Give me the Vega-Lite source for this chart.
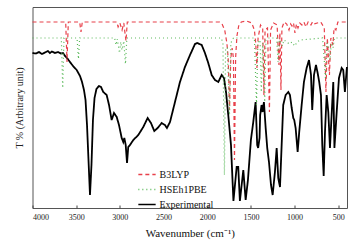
{
 "$schema": "https://vega.github.io/schema/vega-lite/v6.json",
 "width": 314.5,
 "height": 201,
 "autosize": "none",
 "padding": {"left": 32.5, "top": 7, "right": 8, "bottom": 37},
 "background": "white",
 "config": {"view": {"stroke": "#555", "strokeWidth": 1}, "font": "Liberation Serif"},
 "datasets": {
  "exp": [
   {"wn":4000,"T":155},{"wn":3960,"T":154.5},{"wn":3926,"T":156},{"wn":3891,"T":154},{"wn":3857,"T":155.5},{"wn":3823,"T":157},{"wn":3800,"T":155},{"wn":3777,"T":156.5},{"wn":3742,"T":155},{"wn":3708,"T":156},{"wn":3674,"T":154.5},{"wn":3651,"T":155},{"wn":3628,"T":152},{"wn":3605,"T":150},{"wn":3571,"T":146},{"wn":3536,"T":142},{"wn":3494,"T":138},{"wn":3456,"T":132},{"wn":3433,"T":126},{"wn":3411,"T":118},{"wn":3393,"T":108},{"wn":3376,"T":83},{"wn":3359,"T":48},{"wn":3342,"T":13},{"wn":3325,"T":43},{"wn":3308,"T":88},{"wn":3290,"T":110},{"wn":3268,"T":119},{"wn":3239,"T":122},{"wn":3216,"T":121},{"wn":3190,"T":116},{"wn":3151,"T":113},{"wn":3124,"T":103},{"wn":3094,"T":88},{"wn":3067,"T":95},{"wn":3036,"T":91},{"wn":3010,"T":83},{"wn":2979,"T":70},{"wn":2961,"T":66},{"wn":2949,"T":70},{"wn":2933,"T":63},{"wn":2918,"T":45},{"wn":2904,"T":61},{"wn":2884,"T":63},{"wn":2846,"T":68},{"wn":2789,"T":73},{"wn":2732,"T":81},{"wn":2682,"T":90},{"wn":2644,"T":85},{"wn":2606,"T":77},{"wn":2567,"T":80},{"wn":2521,"T":85},{"wn":2484,"T":83},{"wn":2461,"T":80},{"wn":2426,"T":86},{"wn":2369,"T":106},{"wn":2312,"T":126},{"wn":2255,"T":141},{"wn":2197,"T":153},{"wn":2140,"T":164},{"wn":2114,"T":165},{"wn":2063,"T":163},{"wn":2026,"T":155},{"wn":1988,"T":145},{"wn":1949,"T":133},{"wn":1911,"T":128},{"wn":1873,"T":126},{"wn":1835,"T":133},{"wn":1808,"T":130},{"wn":1785,"T":116},{"wn":1759,"T":93},{"wn":1728,"T":63},{"wn":1700,"T":7},{"wn":1663,"T":41},{"wn":1645,"T":41},{"wn":1626,"T":7},{"wn":1587,"T":38},{"wn":1560,"T":8},{"wn":1534,"T":28},{"wn":1500,"T":68},{"wn":1473,"T":86},{"wn":1446,"T":106},{"wn":1428,"T":63},{"wn":1417,"T":60},{"wn":1401,"T":70},{"wn":1394,"T":93},{"wn":1378,"T":103},{"wn":1366,"T":96},{"wn":1351,"T":106},{"wn":1331,"T":80},{"wn":1313,"T":60},{"wn":1293,"T":46},{"wn":1270,"T":23},{"wn":1251,"T":13},{"wn":1225,"T":36},{"wn":1205,"T":60},{"wn":1187,"T":30},{"wn":1167,"T":21},{"wn":1148,"T":63},{"wn":1130,"T":103},{"wn":1102,"T":113},{"wn":1072,"T":116},{"wn":1053,"T":113},{"wn":1033,"T":100},{"wn":1015,"T":90},{"wn":1004,"T":88},{"wn":988,"T":80},{"wn":965,"T":56},{"wn":947,"T":76},{"wn":919,"T":103},{"wn":893,"T":126},{"wn":862,"T":140},{"wn":835,"T":148},{"wn":812,"T":133},{"wn":798,"T":98},{"wn":778,"T":133},{"wn":755,"T":143},{"wn":736,"T":135},{"wn":718,"T":126},{"wn":698,"T":113},{"wn":683,"T":63},{"wn":667,"T":32},{"wn":652,"T":76},{"wn":633,"T":113},{"wn":614,"T":96},{"wn":595,"T":60},{"wn":576,"T":93},{"wn":557,"T":126},{"wn":544,"T":60},{"wn":518,"T":96},{"wn":492,"T":130},{"wn":461,"T":140},{"wn":443,"T":138},{"wn":424,"T":116},{"wn":401,"T":141}
  ],
  "b3": [
   {"wn":4000,"T":186},{"wn":3620,"T":186},{"wn":3605,"T":146},{"wn":3590,"T":186},{"wn":3460,"T":186},{"wn":3445,"T":176},{"wn":3430,"T":186},{"wn":3035,"T":186},{"wn":3020,"T":181},{"wn":3000,"T":185},{"wn":2975,"T":178},{"wn":2955,"T":185},{"wn":2930,"T":167},{"wn":2915,"T":186},{"wn":1860,"T":186},{"wn":1830,"T":184},{"wn":1800,"T":178},{"wn":1775,"T":165},{"wn":1760,"T":150},{"wn":1745,"T":98},{"wn":1730,"T":150},{"wn":1715,"T":160},{"wn":1700,"T":150},{"wn":1688,"T":48},{"wn":1675,"T":150},{"wn":1660,"T":172},{"wn":1640,"T":182},{"wn":1610,"T":186},{"wn":1550,"T":187},{"wn":1490,"T":185},{"wn":1460,"T":178},{"wn":1445,"T":165},{"wn":1431,"T":140},{"wn":1418,"T":170},{"wn":1390,"T":183},{"wn":1365,"T":180},{"wn":1351,"T":113},{"wn":1338,"T":178},{"wn":1310,"T":180},{"wn":1288,"T":96},{"wn":1275,"T":178},{"wn":1240,"T":185},{"wn":1200,"T":183},{"wn":1179,"T":143},{"wn":1168,"T":175},{"wn":1156,"T":118},{"wn":1145,"T":180},{"wn":1120,"T":186},{"wn":1090,"T":184},{"wn":1064,"T":178},{"wn":1045,"T":184},{"wn":1030,"T":182},{"wn":1012,"T":185},{"wn":996,"T":175},{"wn":978,"T":184},{"wn":961,"T":180},{"wn":940,"T":185},{"wn":916,"T":183},{"wn":893,"T":186},{"wn":870,"T":181},{"wn":845,"T":186},{"wn":813,"T":183},{"wn":795,"T":186},{"wn":778,"T":184},{"wn":700,"T":186},{"wn":660,"T":180},{"wn":641,"T":116},{"wn":625,"T":170},{"wn":601,"T":133},{"wn":585,"T":170},{"wn":561,"T":163},{"wn":548,"T":180},{"wn":527,"T":178},{"wn":505,"T":186},{"wn":400,"T":186}
  ],
  "hs": [
   {"wn":4000,"T":170},{"wn":3670,"T":170},{"wn":3654,"T":120},{"wn":3640,"T":170},{"wn":3490,"T":170},{"wn":3474,"T":149},{"wn":3460,"T":170},{"wn":3060,"T":170},{"wn":3044,"T":163},{"wn":3030,"T":169},{"wn":3004,"T":155},{"wn":2990,"T":166},{"wn":2976,"T":158},{"wn":2955,"T":167},{"wn":2936,"T":144},{"wn":2920,"T":170},{"wn":1840,"T":170},{"wn":1820,"T":165},{"wn":1803,"T":33},{"wn":1790,"T":160},{"wn":1770,"T":160},{"wn":1745,"T":93},{"wn":1730,"T":165},{"wn":1700,"T":170},{"wn":1460,"T":170},{"wn":1436,"T":103},{"wn":1420,"T":165},{"wn":1395,"T":168},{"wn":1381,"T":116},{"wn":1365,"T":165},{"wn":1342,"T":106},{"wn":1328,"T":168},{"wn":1300,"T":170},{"wn":1205,"T":170},{"wn":1190,"T":146},{"wn":1175,"T":168},{"wn":1160,"T":166},{"wn":1140,"T":162},{"wn":1120,"T":168},{"wn":1060,"T":164},{"wn":1030,"T":166},{"wn":1000,"T":162},{"wn":970,"T":166},{"wn":940,"T":168},{"wn":680,"T":170},{"wn":662,"T":150},{"wn":647,"T":130},{"wn":630,"T":165},{"wn":610,"T":160},{"wn":595,"T":148},{"wn":580,"T":165},{"wn":560,"T":160},{"wn":545,"T":170},{"wn":400,"T":170}
  ]
 },
 "layer": [
  {
   "data": {"name": "exp"},
   "transform": [{"calculate": "'Experimental'", "as": "series"}],
   "mark": {"type": "line", "strokeWidth": 1.8},
   "encoding": {
    "x": {"field": "wn", "type": "quantitative", "scale": {"domain": [400, 4000], "reverse": true, "nice": false, "zero": false},
     "axis": {"title": "Wavenumber (cm⁻¹)", "values": [4000,3750,3500,3250,3000,2750,2500,2250,2000,1750,1500,1250,1000,750,500], "labelExpr": "datum.value % 500 === 0 ? datum.label : ''", "format": "d", "grid": false, "domain": false, "tickSize": -3, "tickColor": "#444", "labelPadding": 8, "labelFontSize": 8, "labelColor": "#222", "labelFont": "Liberation Serif", "titleFont": "Liberation Serif", "titleFontSize": 11, "titleFontWeight": "normal", "titleColor": "#111", "titlePadding": 6}},
    "y": {"field": "T", "type": "quantitative", "scale": {"domain": [0, 201], "nice": false},
     "axis": {"title": "T % (Arbitrary unit)", "labels": false, "ticks": false, "domain": false, "grid": false, "titleFont": "Liberation Serif", "titleFontSize": 10, "titleFontWeight": "normal", "titleColor": "#222", "titlePadding": 8}},
    "color": {"field": "series", "type": "nominal", "scale": {"domain": ["B3LYP", "HSEh1PBE", "Experimental"], "range": ["#e8404a", "#58b858", "#000000"]},
     "legend": {"title": null, "orient": "none", "legendX": 105, "legendY": 158, "symbolType": "stroke", "symbolSize": 300, "symbolStrokeWidth": 1.5, "labelFont": "Liberation Serif", "labelFontSize": 10, "labelColor": "#111", "rowPadding": -1.5, "labelOffset": 3}},
    "strokeDash": {"field": "series", "type": "nominal", "scale": {"domain": ["B3LYP", "HSEh1PBE", "Experimental"], "range": [[4, 3], [1, 3], [1, 0]]}}
   }
  },
  {
   "data": {"name": "b3"},
   "transform": [{"calculate": "'B3LYP'", "as": "series"}],
   "mark": {"type": "line", "strokeWidth": 1.2},
   "encoding": {
    "x": {"field": "wn", "type": "quantitative"},
    "y": {"field": "T", "type": "quantitative"},
    "color": {"field": "series", "type": "nominal"},
    "strokeDash": {"field": "series", "type": "nominal"}
   }
  },
  {
   "data": {"name": "hs"},
   "transform": [{"calculate": "'HSEh1PBE'", "as": "series"}],
   "mark": {"type": "line", "strokeWidth": 1.2},
   "encoding": {
    "x": {"field": "wn", "type": "quantitative"},
    "y": {"field": "T", "type": "quantitative"},
    "color": {"field": "series", "type": "nominal"},
    "strokeDash": {"field": "series", "type": "nominal"}
   }
  }
 ]
}
